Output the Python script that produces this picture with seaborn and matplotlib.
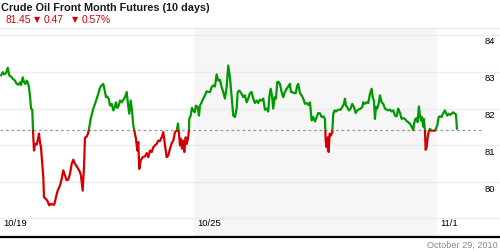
import numpy as np
import pandas as pd
import matplotlib
matplotlib.use("Agg")
import matplotlib.pyplot as plt
from matplotlib.patches import Rectangle
from matplotlib.transforms import ScaledTranslation
import seaborn as sns

# ---- data (time in trading days since 10/19 open) ----
t = [0.021, 0.056, 0.082, 0.124, 0.159, 0.192, 0.227, 0.262, 0.309, 0.344, 0.377, 0.412, 0.433, 0.468, 0.494,
     0.521, 0.550, 0.577, 0.597, 0.624, 0.639, 0.665, 0.680, 0.700, 0.721, 0.756, 0.777, 0.803, 0.824, 0.844,
     0.871, 0.892, 0.906, 0.941, 0.974, 1.015, 1.050, 1.085, 1.118, 1.153, 1.188, 1.236, 1.271, 1.304, 1.339,
     1.374, 1.407, 1.442, 1.477, 1.510, 1.545, 1.580, 1.613, 1.648, 1.668, 1.703, 1.730, 1.751, 1.786, 1.813,
     1.839, 1.868, 1.895, 1.922, 1.957, 1.992, 2.025, 2.060, 2.095, 2.128, 2.157, 2.183, 2.210, 2.239, 2.266,
     2.301, 2.334, 2.363, 2.389, 2.416, 2.445, 2.472, 2.507, 2.540, 2.575, 2.610, 2.636, 2.663, 2.692, 2.719,
     2.746, 2.774, 2.801, 2.828, 2.849, 2.869, 2.898, 2.939, 2.987, 3.022, 3.055, 3.090, 3.125, 3.158, 3.193,
     3.228, 3.261, 3.296, 3.331, 3.364, 3.399, 3.434, 3.467, 3.502, 3.537, 3.570, 3.605, 3.640, 3.666, 3.687,
     3.708, 3.728, 3.749, 3.775, 3.796, 3.825, 3.846, 3.872, 3.893, 3.899, 3.928, 3.955, 3.981, 4.010, 4.037,
     4.072, 4.099, 4.119, 4.154, 4.188, 4.222, 4.257, 4.290, 4.325, 4.360, 4.393, 4.428, 4.463, 4.496, 4.531,
     4.566, 4.599, 4.634, 4.669, 4.702, 4.737, 4.772, 4.805, 4.840, 4.875, 4.896, 4.929, 4.978, 5.011, 5.046,
     5.081, 5.114, 5.149, 5.184, 5.217, 5.252, 5.287, 5.320, 5.355, 5.390, 5.423, 5.458, 5.493, 5.526, 5.547,
     5.576, 5.602, 5.629, 5.658, 5.685, 5.712, 5.740, 5.767, 5.802, 5.835, 5.870, 5.905, 5.938, 5.973, 5.994,
     6.021, 6.056, 6.091, 6.124, 6.144, 6.179, 6.214, 6.247, 6.282, 6.317, 6.350, 6.385, 6.420, 6.453, 6.488,
     6.523, 6.556, 6.591, 6.626, 6.659, 6.694, 6.709, 6.729, 6.750, 6.770, 6.791, 6.818, 6.845, 6.865, 6.894,
     6.921, 6.947, 6.976, 7.017, 7.050, 7.086, 7.106, 7.127, 7.153, 7.188, 7.223, 7.256, 7.291, 7.326, 7.359,
     7.394, 7.429, 7.462, 7.483, 7.518, 7.553, 7.586, 7.621, 7.656, 7.677, 7.703, 7.724, 7.745, 7.771, 7.800,
     7.827, 7.862, 7.895, 7.930, 7.965, 7.998, 8.033, 8.068, 8.101, 8.136, 8.171, 8.204, 8.239, 8.274, 8.307,
     8.342, 8.377, 8.410, 8.445, 8.480, 8.513, 8.533, 8.554, 8.583, 8.603, 8.630, 8.651, 8.671, 8.692, 8.719,
     8.733, 8.754, 8.768, 8.789, 8.810, 8.836, 8.857, 8.884, 8.925, 8.960, 8.980, 9.007, 9.036, 9.063, 9.098,
     9.131, 9.166, 9.186, 9.213, 9.242, 9.269, 9.304, 9.337, 9.372, 9.393, 9.413]
price = [82.90, 82.99, 82.93, 82.96, 83.11, 82.90, 82.87, 82.81, 82.76, 82.67, 82.65, 82.71, 82.64, 82.85, 82.72,
         82.67, 82.76, 82.69, 82.58, 82.27, 82.00, 81.97, 81.40, 80.86, 81.04, 81.02, 81.13, 81.32, 81.09, 80.95,
         80.50, 80.14, 79.59, 79.55, 79.50, 79.37, 79.41, 79.39, 79.39, 79.59, 79.77, 79.91, 80.09, 80.32, 80.18,
         80.05, 80.07, 80.23, 80.50, 80.61, 80.50, 80.43, 80.36, 80.27, 80.18, 79.77, 80.41, 81.21, 81.24, 81.32,
         81.49, 81.72, 81.86, 82.00, 82.13, 82.27, 82.40, 82.57, 82.63, 82.67, 82.49, 82.31, 82.33, 82.27, 82.08,
         82.13, 81.95, 82.04, 82.17, 82.02, 82.08, 82.22, 82.17, 82.24, 82.31, 82.45, 82.13, 81.86, 82.22, 81.95,
         81.54, 81.36, 81.18, 80.86, 81.09, 80.36, 80.59, 80.68, 80.70, 80.79, 80.68, 80.86, 80.82, 80.95, 81.00,
         81.04, 81.13, 81.12, 81.22, 81.36, 81.00, 80.68, 80.73, 80.91, 81.06, 81.13, 81.36, 81.40, 81.59, 81.32,
         81.00, 81.18, 80.91, 81.13, 80.82, 81.22, 81.04, 81.18, 81.40, 81.72, 81.81, 82.02, 81.95, 81.90, 82.08,
         82.04, 81.81, 82.08, 82.17, 82.27, 82.36, 82.47, 82.45, 82.45, 82.58, 82.63, 82.60, 82.93, 82.76, 82.78,
         82.58, 82.45, 82.27, 82.58, 83.17, 82.85, 82.31, 81.81, 81.77, 82.00, 82.45, 82.49, 82.40, 82.31, 82.36,
         82.17, 82.27, 82.42, 82.45, 82.27, 82.15, 82.22, 82.15, 82.24, 82.22, 82.27, 81.97, 82.00, 81.92, 82.31,
         82.54, 82.36, 82.00, 82.31, 82.27, 82.72, 82.72, 82.67, 82.45, 82.31, 82.45, 82.54, 82.60, 82.67, 82.45,
         82.45, 82.42, 82.42, 82.63, 82.67, 82.42, 82.36, 82.27, 82.13, 82.15, 82.10, 82.17, 81.68, 81.77, 81.65,
         81.77, 81.88, 81.87, 81.77, 81.79, 81.72, 81.13, 80.95, 81.22, 80.82, 81.32, 81.27, 81.36, 81.86, 81.95,
         81.92, 81.95, 81.97, 81.97, 82.04, 82.13, 82.27, 82.08, 82.04, 81.95, 82.00, 82.13, 82.04, 81.88, 81.95,
         81.98, 82.00, 82.04, 82.17, 82.13, 82.17, 82.15, 82.40, 82.54, 82.31, 82.22, 81.72, 82.04, 82.00, 82.13,
         82.36, 82.17, 82.13, 82.00, 81.97, 81.95, 81.97, 81.92, 81.95, 81.81, 81.79, 82.00, 81.88, 81.72, 81.74,
         81.72, 81.66, 81.63, 81.59, 81.51, 81.42, 81.59, 81.72, 81.74, 81.63, 82.06, 81.81, 81.68, 81.77, 81.51,
         81.72, 81.40, 80.88, 80.95, 81.22, 81.40, 81.45, 81.40, 81.40, 81.40, 81.45, 81.54, 81.77, 81.79, 81.77,
         81.88, 81.95, 81.88, 81.81, 81.86, 81.83, 81.86, 81.90, 81.86, 81.84, 81.45]

baseline = 81.42
tick_pos = [0, 4, 9]
tick_labels = ["10/19", "10/25", "11/1"]
y_ticks = [80, 81, 82, 83, 84]
shade_span = [4, 9]

title = "Crude Oil Front Month Futures (10 days)"
last_price = "81.45"
change = "0.47"
pct_change = "0.57%"
date_label = "October 29, 2010"

GREEN = "#009a00"
RED = "#d20000"

sns.set_theme(style="white")
plt.rcParams["font.family"] = ["Liberation Sans", "DejaVu Sans"]

fig = plt.figure(figsize=(5, 2.5), dpi=100)
ax = fig.add_axes([0.0, 13 / 250, 1.0, 209 / 250])

df = pd.DataFrame({"t": t, "price": price})

ax.set_xlim(0, 10.30)
ax.set_ylim(78.51, 84.19)

# shading and grid
ax.axvspan(shade_span[0], shade_span[1], color="#f6f6f6", lw=0, zorder=0)
for v in y_ticks:
    ax.axhline(v, color="#ebebeb", lw=1.0, zorder=1)
ax.axhline(79.02, color="#ebebeb", lw=1.0, zorder=1)
ax.hlines(baseline, 0, 9.93, colors="#999999", lw=0.9, linestyles=(0, (2.2, 2.2)), zorder=2)

# price line, green above baseline, red below
sns.lineplot(data=df, x="t", y="price", ax=ax, color=GREEN, lw=1.6, sort=False, estimator=None, zorder=3)
ln_up = ax.lines[-1]
ln_up.set_clip_path(Rectangle((-1, baseline), 20, 20, transform=ax.transData))
sns.lineplot(data=df, x="t", y="price", ax=ax, color=RED, lw=1.6, sort=False, estimator=None, zorder=3)
ln_dn = ax.lines[-1]
ln_dn.set_clip_path(Rectangle((-1, baseline - 20), 20, 20, transform=ax.transData))

ax.set_xlabel("")
ax.set_ylabel("")

# spines
for s in ["left", "right"]:
    ax.spines[s].set_visible(False)
ax.spines["top"].set_color("#e6e6e6")
ax.spines["top"].set_linewidth(0.8)
ax.spines["bottom"].set_color("black")
ax.spines["bottom"].set_linewidth(1.6)

# x ticks inside bottom
ax.set_xticks(tick_pos)
ax.set_xticklabels(tick_labels)
ax.tick_params(axis="x", length=0, pad=-13, labelsize=6.8, colors="black")
for lab in ax.get_xticklabels():
    lab.set_horizontalalignment("left")
    lab.set_transform(lab.get_transform() + ScaledTranslation(3 / 100, 0, fig.dpi_scale_trans))

# y ticks inside right, below gridline
ax.yaxis.tick_right()
ax.set_yticks(y_ticks)
ax.set_yticklabels([str(v) for v in y_ticks])
ax.tick_params(axis="y", length=0, pad=-11, labelsize=6.8, colors="black")
for lab in ax.get_yticklabels():
    lab.set_horizontalalignment("left")
    lab.set_transform(lab.get_transform() + ScaledTranslation(0, -6 / 100, fig.dpi_scale_trans))

# header
fig.text(1 / 500, 1 - 8 / 250, title, fontsize=7.85, fontweight="bold", color="#1a1a1a", va="center", ha="left")
fig.text(5 / 500, 1 - 20 / 250, last_price, fontsize=7.4, color=RED, va="center", ha="left")
fig.text(34 / 500, 1 - 19.5 / 250, "▼", fontsize=5.8, color=RED, va="center", ha="left",
         family=["DejaVu Sans"])
fig.text(44 / 500, 1 - 20 / 250, change, fontsize=7.4, color=RED, va="center", ha="left")
fig.text(72 / 500, 1 - 19.5 / 250, "▼", fontsize=5.8, color=RED, va="center", ha="left",
         family=["DejaVu Sans"])
fig.text(82 / 500, 1 - 20 / 250, pct_change, fontsize=7.4, color=RED, va="center", ha="left")

fig.text(498 / 500, 1 - 245 / 250, date_label, fontsize=6.6, color="#888888", va="center", ha="right")

fig.savefig("out.png", dpi=100)
